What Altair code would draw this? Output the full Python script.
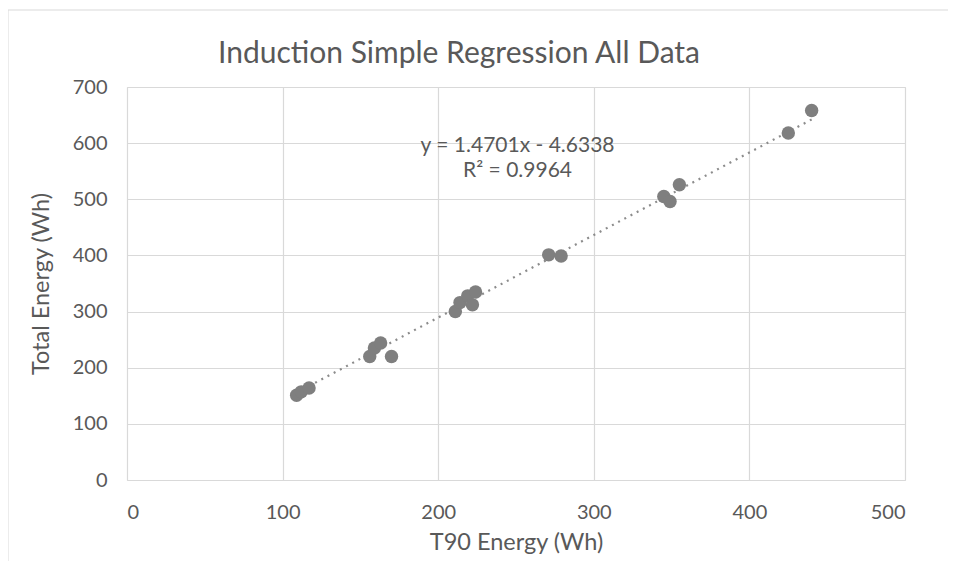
import altair as alt
import pandas as pd

# Scatter data
t90 = [109, 112, 117, 156, 159, 163, 170, 211, 214, 219, 222, 224, 271, 279, 345, 349, 355, 425, 440]
total = [151, 157, 164, 220, 235, 244, 220, 300, 316, 328, 312, 335, 401, 399, 505, 496, 526, 618, 658]

slope = 1.4701
intercept = -4.6338
eq_labels = ["y = 1.4701x - 4.6338", "R² = 0.9964"]
eq_x = [251, 251]
eq_y = [595, 551]

title_text = "Induction Simple Regression All Data"

x_ticks = [0, 100, 200, 300, 400, 500]
y_ticks = [0, 100, 200, 300, 400, 500, 600, 700]

FONT = "Lato"
GRAY = "#595959"

pts = pd.DataFrame({"t90": t90, "total": total})
xmin, xmax = min(t90), max(t90)
trend = pd.DataFrame({"t90": [xmin, xmax],
                      "total": [slope * xmin + intercept, slope * xmax + intercept]})
eq = pd.DataFrame({"x": eq_x, "y": eq_y, "label": eq_labels})

xscale = alt.Scale(domain=[0, 500], nice=False)
yscale = alt.Scale(domain=[0, 700], nice=False)

xaxis = alt.Axis(values=x_ticks, title="T90 Energy (Wh)", grid=True, ticks=False, domain=False,
                 labelFontSize=20, labelColor=GRAY, labelFont=FONT, labelPadding=22,
                 titleFontSize=23.5, titleColor=GRAY, titleFont=FONT, titleFontWeight="normal",
                 titlePadding=8, gridColor="#d9d9d9", gridWidth=1.2)
yaxis = alt.Axis(values=y_ticks, title="Total Energy (Wh)", grid=True, ticks=False, domain=False,
                 labelFontSize=20, labelColor=GRAY, labelFont=FONT, labelPadding=20,
                 titleFontSize=23.5, titleColor=GRAY, titleFont=FONT, titleFontWeight="normal",
                 titlePadding=19, gridColor="#d9d9d9", gridWidth=1.2)

points = alt.Chart(pts).mark_circle(size=180, color="#7f7f7f", opacity=1).encode(
    x=alt.X("t90:Q", scale=xscale, axis=xaxis),
    y=alt.Y("total:Q", scale=yscale, axis=yaxis),
)

line = alt.Chart(trend).mark_line(color="#8c8c8c", strokeWidth=2.2, strokeDash=[2, 5]).encode(
    x=alt.X("t90:Q", scale=xscale),
    y=alt.Y("total:Q", scale=yscale),
)

labels = alt.Chart(eq).mark_text(fontSize=21, font=FONT, color=GRAY, align="center", baseline="middle").encode(
    x=alt.X("x:Q", scale=xscale),
    y=alt.Y("y:Q", scale=yscale),
    text="label:N",
)

title = alt.Chart(pd.DataFrame({"t": [title_text]})).mark_text(
    fontSize=30, font=FONT, color=GRAY, align="center", baseline="alphabetic"
).encode(x=alt.value(332), y=alt.value(-24), text="t:N")

frame = alt.Chart(pd.DataFrame({"a": [0]})).mark_rect(fill=None, stroke="#d9d9d9", strokeWidth=1).encode(
    x=alt.value(-119), x2=alt.value(900), y=alt.value(-77), y2=alt.value(600)
)

chart = alt.layer(frame, line, points, labels, title).properties(
    width=778, height=393,
    autosize=alt.AutoSizeParams(type="none"),
    padding={"left": 119, "top": 79, "right": 43, "bottom": 81},
).configure_view(stroke=None).configure(background="white")

chart.save("out.html", embed_options={"renderer": "svg", "actions": False})
